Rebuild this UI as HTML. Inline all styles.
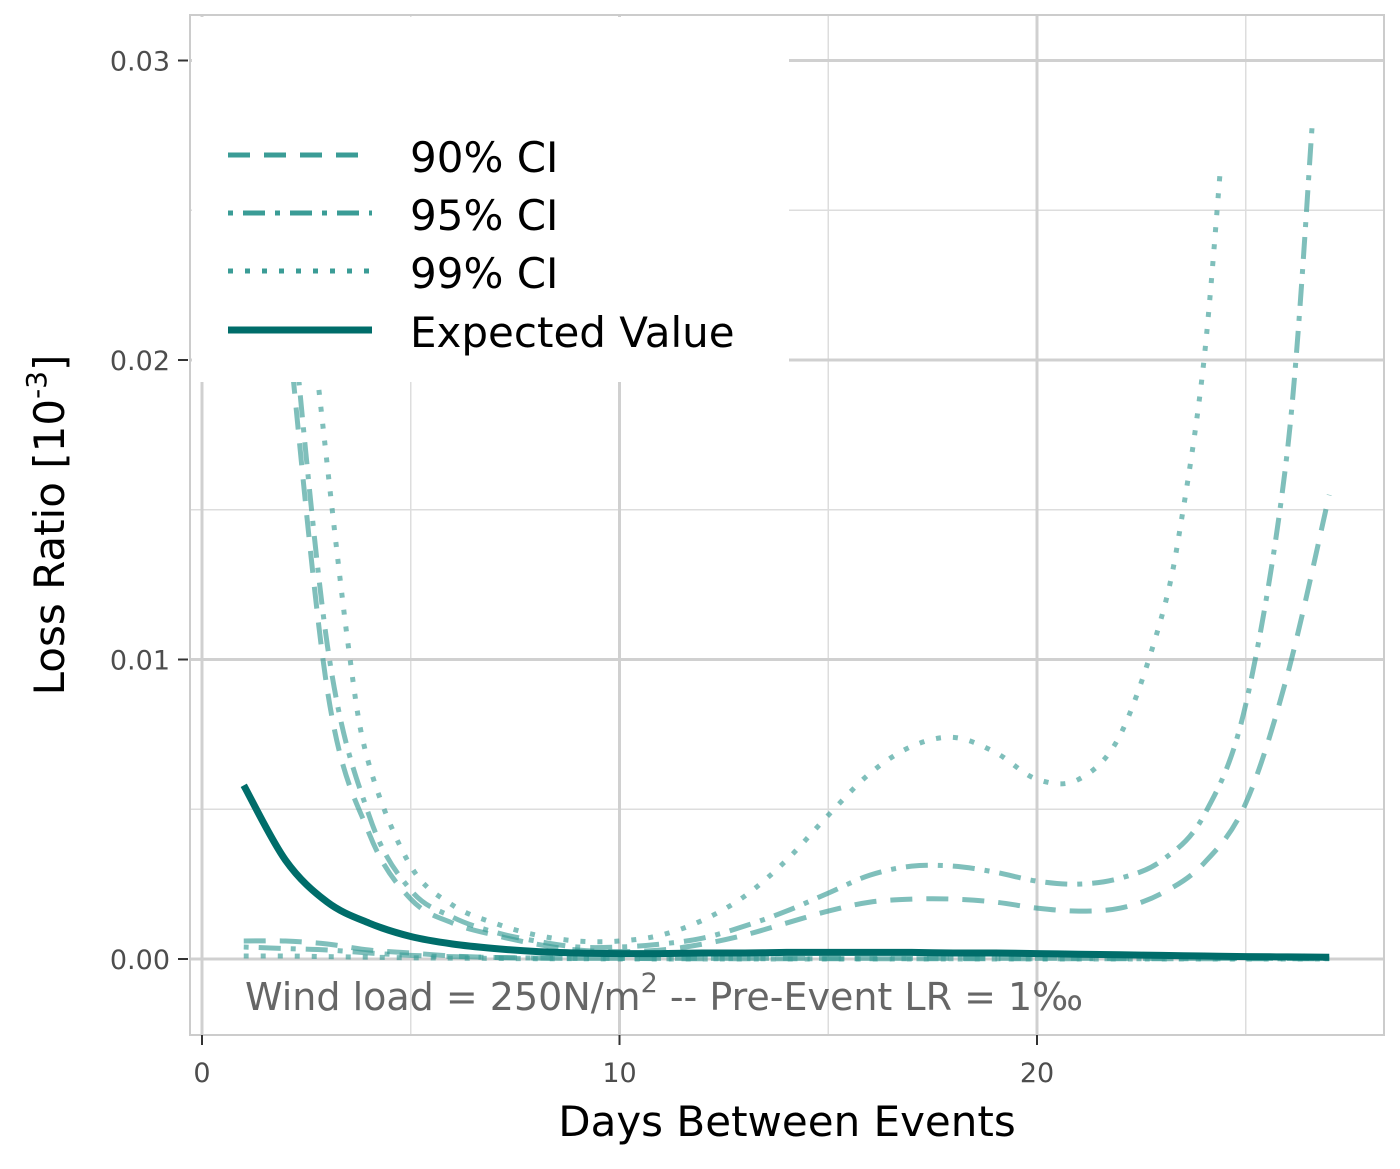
<!DOCTYPE html>
<html><head><meta charset="utf-8"><style>
body{margin:0;background:#fff;}
svg text{font-family:"DejaVu Sans","Liberation Sans",sans-serif;}
</style></head><body>
<svg id="chart" width="1400" height="1164" xmlns="http://www.w3.org/2000/svg">
<defs><clipPath id="pc"><rect x="190" y="15" width="1194" height="1020"/></clipPath></defs>
<g id="grid"></g>
<g id="series" clip-path="url(#pc)"></g>
<rect x="190" y="15" width="1194" height="1020" fill="none" stroke="#cccccc" stroke-width="2"/>
<g id="axes"></g>
<g>
<rect x="192" y="17" width="597" height="365" fill="#fff"/>
<g><line x1="228" y1="155" x2="372" y2="155" stroke="#3a9c96" stroke-width="5" stroke-dasharray="22,14"/><text x="410" y="172" font-size="42">90% CI</text></g>
<g><line x1="228" y1="213" x2="372" y2="213" stroke="#3a9c96" stroke-width="5" stroke-dasharray="5,10,22,10"/><text x="410" y="230" font-size="42">95% CI</text></g>
<g><line x1="228" y1="271" x2="372" y2="271" stroke="#3a9c96" stroke-width="5" stroke-dasharray="5,12"/><text x="410" y="288" font-size="42">99% CI</text></g>
<g><line x1="228" y1="330" x2="372" y2="330" stroke="#006d6a" stroke-width="7"/><text x="410" y="347" font-size="42">Expected Value</text></g>
</g>
<text x="245" y="1010" font-size="38" fill="#666">Wind load = 250N/m<tspan dy="-18" font-size="27">2</tspan><tspan dy="18">  --  Pre-Event LR = 1‰</tspan></text>
<text x="787" y="1136" font-size="42" text-anchor="middle">Days Between Events</text>
<text transform="translate(64,525) rotate(-90)" font-size="42" text-anchor="middle">Loss Ratio [10<tspan dy="-18" font-size="28">-3</tspan><tspan dy="18">]</tspan></text>
</svg>
<script>
const xTicks=[0,10,20];
const yTicks=[0,0.01,0.02,0.03];
const yTickLabels=["0.00","0.01","0.02","0.03"];
const xs=[1,2,3,4,5,6,7,8,9,10,11,12,13,14,15,16,17,18,19,20,21,22,23,24,25,26,27];
const expected=[0.0058,0.0033,0.0019,0.0012,0.00075,0.0005,0.00035,0.00025,0.0002,0.00018,0.00018,0.0002,0.0002,0.00022,0.00022,0.00022,0.00022,0.0002,0.0002,0.00018,0.00016,0.00014,0.00012,0.0001,0.00008,0.00007,0.00006];
const up90x=[2,3,4,5,6,7,8,9,10,11,12,13,14,15,16,17,18,19,20,21,22,23,24,25,26,27];
const up90=[0.022,0.009,0.0042,0.002,0.0012,0.0008,0.0005,0.0003,0.00025,0.0003,0.0005,0.0008,0.0012,0.0016,0.0019,0.002,0.002,0.0019,0.0017,0.0016,0.0017,0.0022,0.0032,0.0052,0.0095,0.0155];
const up95x=[2,3,4,5,6,7,8,9,10,11,12,13,14,15,16,17,18,19,20,21,22,23,24,25,26,26.6];
const up95=[0.024,0.0105,0.0048,0.0023,0.0014,0.0009,0.0006,0.0004,0.0004,0.0005,0.0007,0.0011,0.0016,0.0022,0.0028,0.0031,0.0031,0.0029,0.0026,0.0025,0.0027,0.0033,0.0048,0.0085,0.017,0.028];
const up99x=[2.8,3.5,4,5,6,7,8,9,10,11,12,13,14,15,16,17,18,19,20,21,22,23,23.5,24,24.4];
const up99=[0.019,0.0105,0.0065,0.0031,0.0018,0.0012,0.0008,0.0006,0.0006,0.0008,0.0013,0.0021,0.0033,0.0048,0.0062,0.0071,0.0074,0.0069,0.006,0.006,0.0075,0.0115,0.015,0.02,0.0265];
const lo90=[0.0006,0.0006,0.0005,0.0003,0.0002,0.0001,0.00005,0.00003,0.00002,0.00002,0.00002,0.00002,0.00002,0.00002,0.00002,0.00002,0.00002,0.00002,0.00002,0.00002,0.00002,0.00002,0.00002,0.00002,0.00002,0.00002,0.00002];
const lo95=[0.0004,0.00035,0.0003,0.0002,0.00012,0.00008,0.00005,0.00003,0.00002,0.00002,0.00001,0.00001,0.00001,0.00001,0.00001,0.00001,0.00001,0.00001,0.00001,0.00001,0.00001,0.00001,0.00001,0.00001,0.00001,0.00001,0.00001];
const lo99=[0.0001,0.0001,0.00008,0.00006,0.00004,0.00003,0.00002,0.00001,0.00001,0,0,0,0,0,0,0,0,0,0,0,0,0,0,0,0,0,0];

const NS="http://www.w3.org/2000/svg";
const X=v=>202+v*41.75;
const Y=v=>959-v*29950;
function mk(tag,attrs,parent){const e=document.createElementNS(NS,tag);for(const k in attrs)e.setAttribute(k,attrs[k]);parent.appendChild(e);return e;}
const grid=document.getElementById('grid'),axes=document.getElementById('axes'),series=document.getElementById('series');
[5,15,25].forEach(v=>{const l=mk('line',{x1:X(v),x2:X(v),y1:15,y2:1035,stroke:'#dddddd','stroke-width':1.5},grid);

});
[0.005,0.015,0.025].forEach(v=>{const l=mk('line',{x1:190,x2:1384,y1:Y(v),y2:Y(v),stroke:'#dddddd','stroke-width':1.5},grid);

});
xTicks.forEach(v=>{const l=mk('line',{x1:X(v),x2:X(v),y1:15,y2:1035,stroke:'#d0d0d0','stroke-width':3},grid);


const t=mk('line',{x1:X(v),x2:X(v),y1:1035,y2:1045,stroke:'#333','stroke-width':2},axes);


const tx=mk('text',{x:X(v),y:1082,'font-size':27,fill:'#4d4d4d','text-anchor':'middle'},axes);tx.textContent=v;

});
yTicks.forEach((v,i)=>{const l=mk('line',{x1:190,x2:1384,y1:Y(v),y2:Y(v),stroke:'#d0d0d0','stroke-width':3},grid);


const t=mk('line',{x1:178,x2:188,y1:Y(v),y2:Y(v),stroke:'#333','stroke-width':2},axes);


const tx=mk('text',{x:170,y:Y(v)+10,'font-size':27,fill:'#4d4d4d','text-anchor':'end'},axes);tx.textContent=yTickLabels[i];

});
function path(xv,yv){const p=xv.map((x,i)=>[X(x),Y(yv[i])]);let d=`M${p[0][0]},${p[0][1]}`;
for(let i=0;i<p.length-1;i++){const p0=p[Math.max(0,i-1)],p1=p[i],p2=p[i+1],p3=p[Math.min(p.length-1,i+2)];
d+=` C${p1[0]+(p2[0]-p0[0])/6},${p1[1]+(p2[1]-p0[1])/6} ${p2[0]-(p3[0]-p1[0])/6},${p2[1]-(p3[1]-p1[1])/6} ${p2[0]},${p2[1]}`;}return d;}
function line(xv,yv,dash,name){const e=mk('path',{d:path(xv,yv),fill:'none',stroke:'#3a9c96','stroke-opacity':0.65,'stroke-width':5,'stroke-dasharray':dash},series);

}
line(up90x,up90,'22,14','ci90-upper');
line(xs,lo90,'22,14','ci90-lower');
line(up95x,up95,'5,10,22,10','ci95-upper');
line(xs,lo95,'5,10,22,10','ci95-lower');
line(up99x,up99,'5,12','ci99-upper');
line(xs,lo99,'5,12','ci99-lower');
const ev=mk('path',{d:path(xs,expected),fill:'none',stroke:'#006d6a','stroke-width':7},series);


</script>
</body></html>
